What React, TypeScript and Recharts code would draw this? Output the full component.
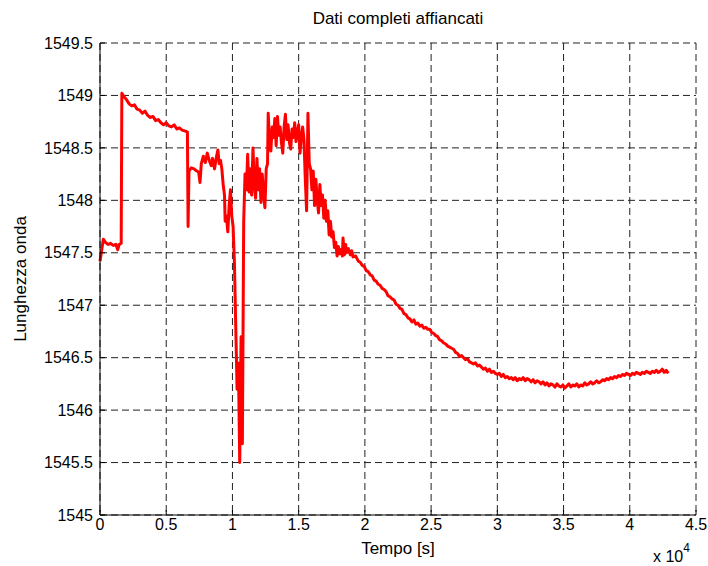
import {LineChart, Line, XAxis, YAxis, CartesianGrid} from 'recharts';

// time [s]
const tempo = [
    0, 100, 250, 400, 600, 800, 1000, 1200, 1340, 1450, 1600,
    1650, 1800, 2000, 2200, 2400, 2600, 2800, 3000, 3200, 3400, 3600, 3800, 4000,
    4200, 4400, 4600, 4800, 5000, 5200, 5400, 5600, 5800, 6000, 6200, 6450, 6600,
    6650, 6720, 6900, 7100, 7300, 7450, 7550, 7650, 7800, 7950, 8100, 8250, 8400,
    8500, 8650, 8800, 8900, 9000, 9100, 9200, 9300, 9400, 9450, 9550, 9650, 9750,
    9850, 9950, 10050, 10150, 10250, 10350, 10450, 10550, 10650, 10750, 10850,
    10950, 11050, 11150, 11250, 11350, 11450, 11550, 11650, 11750, 11850, 11950,
    12050, 12150, 12250, 12350, 12450, 12550, 12650, 12700, 12800, 12900, 13000,
    13100, 13200, 13300, 13400, 13500, 13600, 13700, 13800, 13900, 14000, 14100,
    14200, 14300, 14400, 14500, 14600, 14700, 14800, 14900, 15000, 15100, 15200,
    15300, 15400, 15500, 15600, 15700, 15800, 15900, 16000, 16100, 16200, 16300,
    16400, 16500, 16600, 16700, 16800, 16900, 17000, 17100, 17200, 17300, 17400,
    17500, 17600, 17700, 17800, 17900, 18000, 18100, 18200, 18300, 18350, 18450,
    18550, 18600, 18750, 18900, 19000, 19100, 19300, 19500, 19650, 19800, 19950,
    20100, 20250, 20400, 20550, 20700, 20850, 21000, 21150, 21300, 21450, 21600,
    21750, 21900, 22050, 22200, 22350, 22500, 22650, 22800, 22950, 23100, 23250,
    23400, 23550, 23700, 23850, 24000, 24150, 24300, 24450, 24600, 24750, 24900,
    25050, 25200, 25350, 25500, 25650, 25800, 25950, 26100, 26250, 26400, 26550,
    26700, 26850, 27000, 27150, 27300, 27450, 27600, 27750, 27900, 28050, 28200,
    28350, 28500, 28650, 28800, 28950, 29100, 29250, 29400, 29550, 29700, 29850,
    30000, 30150, 30300, 30450, 30600, 30750, 30900, 31050, 31200, 31350, 31500,
    31650, 31800, 31950, 32100, 32250, 32400, 32550, 32700, 32850, 33000, 33150,
    33300, 33450, 33600, 33750, 33900, 34050, 34200, 34350, 34500, 34650, 34800,
    34950, 35100, 35250, 35400, 35550, 35700, 35850, 36000, 36150, 36300, 36450,
    36600, 36750, 36900, 37050, 37200, 37350, 37500, 37650, 37800, 37950, 38100,
    38250, 38400, 38550, 38700, 38850, 39000, 39150, 39300, 39450, 39600, 39750,
    39900, 40050, 40200, 40350, 40500, 40650, 40800, 40950, 41100, 41250, 41400,
    41550, 41700, 41850, 42000, 42150, 42300, 42450, 42600, 42750, 42900,
];

// lunghezza d'onda [nm]
const lunghezza = [
    1547.42, 1547.50, 1547.63, 1547.60, 1547.58, 1547.59, 1547.57, 1547.58, 1547.53, 1547.58, 1547.59,
    1549.02, 1548.99, 1548.96, 1548.92, 1548.90, 1548.91, 1548.87, 1548.86, 1548.83, 1548.85, 1548.81, 1548.79, 1548.80,
    1548.76, 1548.77, 1548.74, 1548.72, 1548.74, 1548.71, 1548.70, 1548.72, 1548.68, 1548.69, 1548.67, 1548.66, 1548.65,
    1547.75, 1548.28, 1548.31, 1548.30, 1548.28, 1548.27, 1548.17, 1548.35, 1548.42, 1548.36, 1548.45, 1548.38, 1548.33,
    1548.40, 1548.30, 1548.42, 1548.48, 1548.35, 1548.38, 1548.30, 1548.15, 1548.05, 1547.80, 1547.85, 1547.70, 1547.95,
    1548.10, 1547.85, 1547.75, 1547.40, 1546.80, 1546.20, 1546.45, 1545.50, 1546.70, 1545.68, 1547.80,
    1548.25, 1548.10, 1548.44, 1548.08, 1548.30, 1548.05, 1548.50, 1548.15, 1548.02, 1548.40, 1548.10,
    1548.30, 1547.98, 1548.25, 1548.05, 1547.93, 1548.30, 1548.35, 1548.83, 1548.55, 1548.47, 1548.70,
    1548.60, 1548.78, 1548.52, 1548.80, 1548.62, 1548.70, 1548.55, 1548.45, 1548.70, 1548.82, 1548.58,
    1548.72, 1548.55, 1548.49, 1548.68, 1548.60, 1548.74, 1548.56, 1548.65, 1548.72, 1548.45, 1548.60,
    1548.70, 1548.58, 1548.20, 1547.90, 1548.83, 1548.35, 1548.30, 1548.10, 1548.28, 1547.95, 1548.20,
    1548.00, 1547.88, 1548.15, 1547.95, 1548.05, 1547.83, 1548.00, 1547.80, 1547.90, 1547.67, 1547.80,
    1547.65, 1547.70, 1547.55, 1547.60, 1547.47, 1547.56, 1547.49, 1547.53, 1547.47, 1547.64, 1547.48,
    1547.58, 1547.50, 1547.54, 1547.48, 1547.52, 1547.46, 1547.47, 1547.42, 1547.41, 1547.38, 1547.37,
    1547.33, 1547.32, 1547.29, 1547.28, 1547.24, 1547.23, 1547.20, 1547.19, 1547.16, 1547.15, 1547.13,
    1547.09, 1547.08, 1547.06, 1547.05, 1547.01, 1547.00, 1546.97, 1546.96, 1546.92, 1546.91, 1546.88,
    1546.87, 1546.84, 1546.86, 1546.82, 1546.83, 1546.80, 1546.81, 1546.78, 1546.79, 1546.77, 1546.77,
    1546.74, 1546.73, 1546.71, 1546.70, 1546.67, 1546.66, 1546.64, 1546.63, 1546.61, 1546.60, 1546.59,
    1546.58, 1546.55, 1546.54, 1546.51, 1546.52, 1546.50, 1546.48, 1546.49, 1546.46, 1546.45, 1546.44,
    1546.45, 1546.42, 1546.43, 1546.41, 1546.39, 1546.40, 1546.37, 1546.39, 1546.36, 1546.37, 1546.35,
    1546.34, 1546.35, 1546.32, 1546.34, 1546.31, 1546.32, 1546.30, 1546.31, 1546.29, 1546.31, 1546.28,
    1546.30, 1546.29, 1546.31, 1546.28, 1546.30, 1546.29, 1546.27, 1546.29, 1546.26, 1546.28, 1546.27,
    1546.25, 1546.27, 1546.24, 1546.26, 1546.23, 1546.25, 1546.24, 1546.22, 1546.25, 1546.23, 1546.22,
    1546.24, 1546.21, 1546.23, 1546.25, 1546.22, 1546.24, 1546.23, 1546.25, 1546.22, 1546.24, 1546.23,
    1546.26, 1546.24, 1546.25, 1546.27, 1546.25, 1546.26, 1546.28, 1546.26, 1546.27, 1546.29, 1546.28,
    1546.30, 1546.29, 1546.31, 1546.30, 1546.32, 1546.31, 1546.33, 1546.32, 1546.34, 1546.33, 1546.35,
    1546.34, 1546.33, 1546.35, 1546.34, 1546.36, 1546.35, 1546.34, 1546.36, 1546.35, 1546.37, 1546.36,
    1546.35, 1546.37, 1546.36, 1546.38, 1546.36, 1546.37, 1546.39, 1546.36, 1546.38, 1546.35,
];

const xTicks = [0, 5000, 10000, 15000, 20000, 25000, 30000, 35000, 40000, 45000];
const xTickLabels = ['0', '0.5', '1', '1.5', '2', '2.5', '3', '3.5', '4', '4.5'];
const yTicks = [1545, 1545.5, 1546, 1546.5, 1547, 1547.5, 1548, 1548.5, 1549, 1549.5];
const yTickLabels = ['1545', '1545.5', '1546', '1546.5', '1547', '1547.5', '1548', '1548.5', '1549', '1549.5'];

const data = tempo.map((t, i) => ({t, wl: lunghezza[i]}));

const font = 'Arial, "Liberation Sans", Helvetica, sans-serif';
const tickStyle = {fontSize: 16, fill: '#000', fontFamily: font};

export default function App() {
    return (
        <div style={{position: 'absolute', left: 0, top: 0, width: 708, height: 566, background: '#fff'}}>
            <LineChart width={708} height={566} data={data}
                       margin={{top: 43, right: 12, left: 10, bottom: 21}}>
                <CartesianGrid stroke="#222" strokeDasharray="7 4"/>
                <XAxis dataKey="t" type="number" domain={[0, 45000]} ticks={xTicks}
                       tickFormatter={(v: number) => xTickLabels[xTicks.indexOf(v)]}
                       tick={tickStyle} height={30} tickSize={-5} tickMargin={9}
                       axisLine={{stroke: '#000'}} tickLine={{stroke: '#000'}} interval={0}/>
                <XAxis xAxisId="top" orientation="top" type="number" domain={[0, 45000]} ticks={xTicks}
                       height={0} mirror tick={false} tickSize={5}
                       axisLine={{stroke: '#000'}} tickLine={{stroke: '#000'}} interval={0}/>
                <YAxis type="number" domain={[1545, 1549.5]} ticks={yTicks}
                       tickFormatter={(v: number) => yTickLabels[yTicks.indexOf(v)]}
                       tick={tickStyle} width={90} tickSize={-5} tickMargin={12}
                       axisLine={{stroke: '#000'}} tickLine={{stroke: '#000'}} interval={0}/>
                <YAxis yAxisId="right" orientation="right" type="number" domain={[1545, 1549.5]} ticks={yTicks}
                       width={0} mirror tick={false} tickSize={5}
                       axisLine={{stroke: '#000'}} tickLine={{stroke: '#000'}} interval={0}/>
                <Line type="linear" dataKey="wl" stroke="#ff0000" strokeWidth={3} dot={false}
                      strokeLinejoin="round" isAnimationActive={false}/>
            </LineChart>
            <svg width={708} height={566} style={{position: 'absolute', left: 0, top: 0, pointerEvents: 'none'}}
                 fontFamily={font}>
                <text x={398} y={24} fontSize={17} textAnchor="middle">Dati completi affiancati</text>
                <text x={398} y={554} fontSize={17} textAnchor="middle">Tempo [s]</text>
                <text x={26} y={279} fontSize={17} textAnchor="middle" transform="rotate(-90 26 279)">Lunghezza onda</text>
                <text x={653} y={562} fontSize={16}>x 10<tspan dy={-10} fontSize={12}>4</tspan></text>
            </svg>
        </div>
    );
}
